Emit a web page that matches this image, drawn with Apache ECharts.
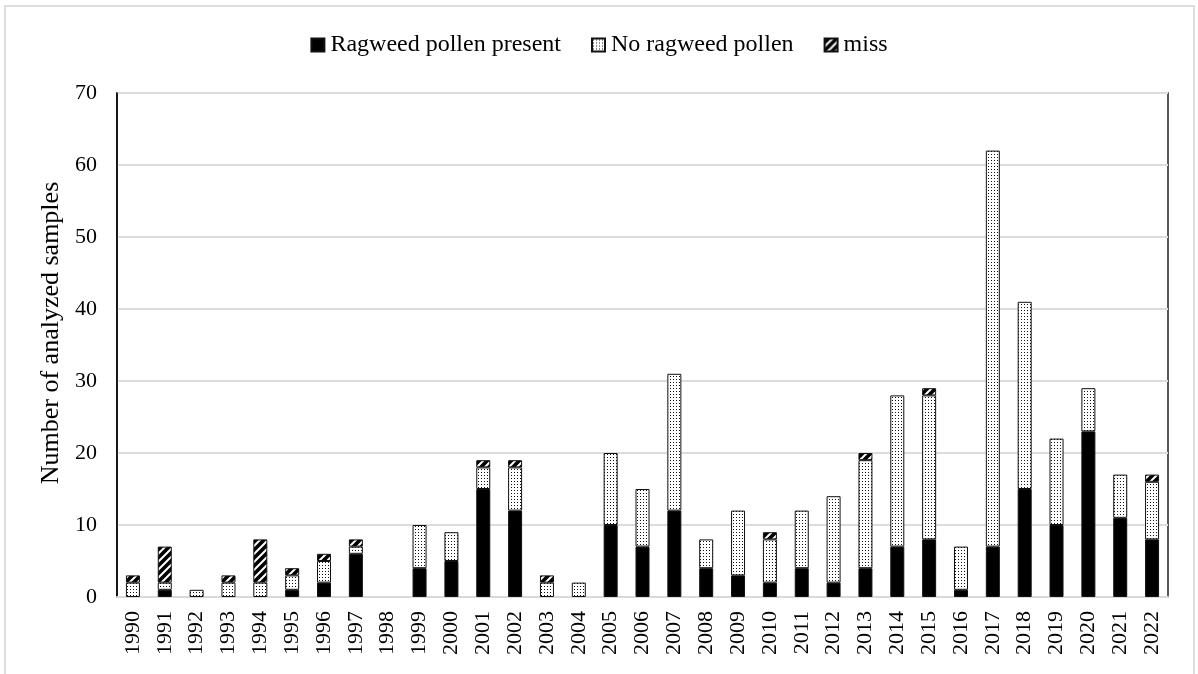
<!DOCTYPE html>
<html>
<head>
<meta charset="utf-8">
<script src="https://cdn.jsdelivr.net/npm/echarts@6/dist/echarts.min.js"></script>
<style>
html,body{margin:0;padding:0;background:#fff;}
#chart{width:1198px;height:674px;}
</style>
</head>
<body>
<div id="chart"></div>
<script>
const years = ['1990','1991','1992','1993','1994','1995','1996','1997','1998','1999','2000','2001','2002','2003','2004','2005','2006','2007','2008','2009','2010','2011','2012','2013','2014','2015','2016','2017','2018','2019','2020','2021','2022'];
const present = [0,1,0,0,0,1,2,6,0,4,5,15,12,0,0,10,7,12,4,3,2,4,2,4,7,8,1,7,15,10,23,11,8];
const noPollen = [2,1,1,2,2,2,3,1,0,6,4,3,6,2,2,10,8,19,4,9,6,8,12,15,21,20,6,55,26,12,6,6,8];
const miss = [1,5,0,1,6,1,1,1,0,0,0,1,1,1,0,0,0,0,0,0,1,0,0,1,0,1,0,0,0,0,0,0,1];
const seriesNames = ['Ragweed pollen present','No ragweed pollen','miss'];
const yTicks = [0,10,20,30,40,50,60,70];

function dotPattern(){
  const c = document.createElement('canvas');
  c.width = 3; c.height = 3;
  const g = c.getContext('2d');
  g.fillStyle = '#ffffff'; g.fillRect(0,0,3,3);
  g.fillStyle = '#111111'; g.fillRect(1,1,1,1);
  return c;
}
function hatchPattern(){
  const c = document.createElement('canvas');
  c.width = 8; c.height = 8;
  const g = c.getContext('2d');
  g.fillStyle = '#000000'; g.fillRect(0,0,8,8);
  g.strokeStyle = '#ffffff'; g.lineWidth = 2;
  g.beginPath();
  g.moveTo(-2,10); g.lineTo(10,-2);
  g.moveTo(-6,6); g.lineTo(6,-6);
  g.moveTo(2,14); g.lineTo(14,2);
  g.stroke();
  return c;
}
const nz = a => a.map(v => v === 0 ? '-' : v);
const font = '"Liberation Serif", "Times New Roman", serif';

const chart = echarts.init(document.getElementById('chart'));
const fills = [
  '#000000',
  {image: dotPattern(), repeat: 'repeat'},
  {image: hatchPattern(), repeat: 'repeat'}
];
const datas = [present, noPollen, miss];
chart.setOption({
  animation: false,
  backgroundColor: '#ffffff',
  graphic: [{
    type: 'rect', z: -10,
    shape: {x: 5, y: 6, width: 1189, height: 672},
    style: {fill: 'none', stroke: '#dedede', lineWidth: 2}
  }],
  legend: {
    top: 28, left: 'center',
    itemWidth: 13, itemHeight: 13, itemGap: 30,
    icon: 'rect',
    textStyle: {fontFamily: font, fontSize: 24, color: '#000', padding: [0,0,0,1]},
    data: seriesNames
  },
  grid: {
    left: 117, right: 30, top: 93, bottom: 77,
    show: true, borderColor: '#222', borderWidth: 1.5
  },
  xAxis: {
    type: 'category', data: years,
    axisLine: {show: true, lineStyle: {color: '#d9d9d9', width: 2}},
    axisTick: {show: false},
    axisLabel: {rotate: 90, fontFamily: font, fontSize: 22, color: '#000', margin: 14, interval: 0}
  },
  yAxis: {
    type: 'value', min: 0, max: 70, interval: 10,
    name: 'Number of analyzed samples', nameLocation: 'middle', nameGap: 52,
    nameTextStyle: {fontFamily: font, fontSize: 26, color: '#000', padding: [0,0,0,24]},
    axisLine: {show: true, lineStyle: {color: '#000', width: 1.5}},
    axisTick: {show: false},
    splitLine: {lineStyle: {color: '#dcdcdc', width: 2}},
    axisLabel: {fontFamily: font, fontSize: 22, color: '#000', margin: 20,
      formatter: v => yTicks.includes(v) ? String(v) : ''}
  },
  series: seriesNames.map((n, i) => ({
    name: n, type: 'bar', stack: 'total', barWidth: 14,
    data: nz(datas[i]),
    itemStyle: {color: fills[i], borderColor: '#111', borderWidth: 1}
  }))
});
</script>
</body>
</html>
